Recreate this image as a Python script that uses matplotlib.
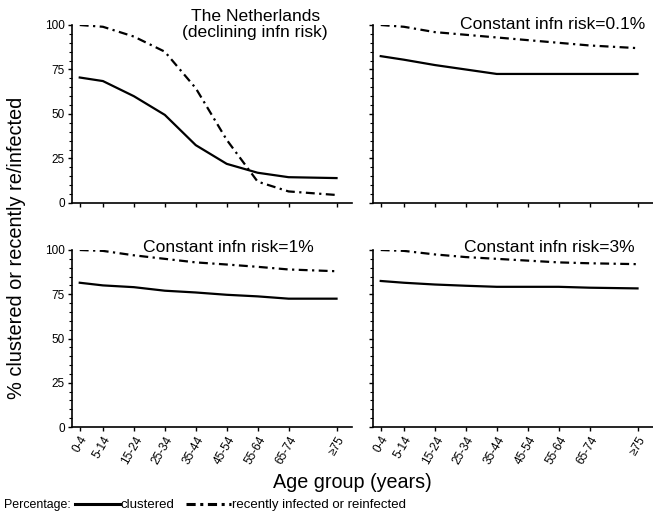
import matplotlib
matplotlib.use("Agg")
import matplotlib.pyplot as plt
from matplotlib.lines import Line2D
from matplotlib.ticker import MultipleLocator

plt.rcParams['font.family'] = ['Liberation Sans', 'DejaVu Sans']

age_labels = ["0-4", "5-14", "15-24", "25-34", "35-44", "45-54", "55-64", "65-74", "≥75"]
age_pos = [2, 9.5, 19.5, 29.5, 39.5, 49.5, 59.5, 69.5, 85]

panel_titles = ["The Netherlands\n(declining infn risk)", "Constant infn risk=0.1%",
                "Constant infn risk=1%", "Constant infn risk=3%"]

nl_clustered = [70.5, 68.5, 60, 49.5, 32.5, 22, 17, 14.5, 14]
nl_recent = [100, 99, 93.5, 85, 64.5, 35.5, 12, 6.5, 4.5]

r01_clustered = [82.5, 80.5, 77.5, 75, 72.5, 72.5, 72.5, 72.5, 72.5]
r01_recent = [100, 99, 96, 94.5, 93, 91.5, 90, 88.5, 87]

r1_clustered = [81.5, 80, 79, 77, 76, 74.7, 73.8, 72.5, 72.5]
r1_recent = [100, 99.5, 97, 95, 93, 91.8, 90.5, 89, 88]

r3_clustered = [82.5, 81.5, 80.5, 79.8, 79.2, 79.2, 79.2, 78.7, 78.3]
r3_recent = [100, 99.5, 97.5, 96, 95, 94, 93, 92.5, 92]

series = [(nl_clustered, nl_recent), (r01_clustered, r01_recent),
          (r1_clustered, r1_recent), (r3_clustered, r3_recent)]

dashdot = (0, (4, 2, 1, 2))

fig = plt.figure(figsize=(6.53, 5.14), dpi=100)
W, H = 653, 514
boxes = [
    (72, 25, 352, 203),
    (373, 25, 653, 203),
    (72, 250, 352, 427),
    (373, 250, 653, 427),
]
axes = []
for (x0, y0, x1, y1) in boxes:
    ax = fig.add_axes([x0 / W, 1 - y1 / H, (x1 - x0) / W, (y1 - y0) / H])
    axes.append(ax)

for i, ax in enumerate(axes):
    clus, rec = series[i]
    ax.plot(age_pos, clus, color='black', lw=1.6, solid_joinstyle='round')
    ax.plot(age_pos, rec, color='black', lw=1.6, linestyle=dashdot)
    ax.set_xlim(-0.5, 90)
    ax.set_ylim(0, 100)
    for s in ['top', 'right']:
        ax.spines[s].set_visible(False)
    ax.spines['left'].set_linewidth(1.2)
    ax.spines['bottom'].set_linewidth(1.2)
    ax.set_yticks([0, 25, 50, 75, 100])
    ax.yaxis.set_minor_locator(MultipleLocator(5))
    ax.tick_params(axis='y', which='major', direction='out', length=3, width=1, labelsize=8.5, pad=2)
    ax.tick_params(axis='y', which='minor', direction='out', length=2, width=0.8)
    ax.set_xticks(age_pos)
    ax.tick_params(axis='x', direction='out', length=3, width=1, labelsize=8.5, pad=2)
    if i in (2, 3):
        ax.set_xticklabels(age_labels, rotation=60, ha='right', rotation_mode='anchor')
    else:
        ax.set_xticklabels([])
    if i in (1, 3):
        ax.set_yticklabels([])

axes[0].text(0.654, 1.09, panel_titles[0], transform=axes[0].transAxes, ha='center', va='top',
             fontsize=12.6, linespacing=1.1)
axes[1].text(0.971, 1.045, panel_titles[1], transform=axes[1].transAxes, ha='right', va='top',
             fontsize=12.6)
axes[2].text(0.559, 1.055, panel_titles[2], transform=axes[2].transAxes, ha='center', va='top',
             fontsize=12.6)
axes[3].text(0.936, 1.055, panel_titles[3], transform=axes[3].transAxes, ha='right', va='top',
             fontsize=12.6)

fig.text(352 / W, 1 - 483 / H, "Age group (years)", ha='center', va='center', fontsize=14.2)
fig.text(17 / W, 1 - 248 / H, "% clustered or recently re/infected", ha='center', va='center',
         rotation=90, fontsize=14.4)

fig.text(4 / W, 1 - 505 / H, "Percentage:", ha='left', va='center', fontsize=8.9)
handles = [Line2D([], [], color='black', lw=2.2),
           Line2D([], [], color='black', lw=2.2, linestyle=(0, (3, 1.5, 1, 1.5)))]
fig.legend(handles, ["clustered", "recently infected or reinfected"], loc='center left',
           bbox_to_anchor=(75 / W, 1 - 505 / H), ncol=2, frameon=False, fontsize=9.5,
           handlelength=3.4, handletextpad=0.05, columnspacing=0.9, borderpad=0, borderaxespad=0)

fig.savefig("out.png", dpi=100)
